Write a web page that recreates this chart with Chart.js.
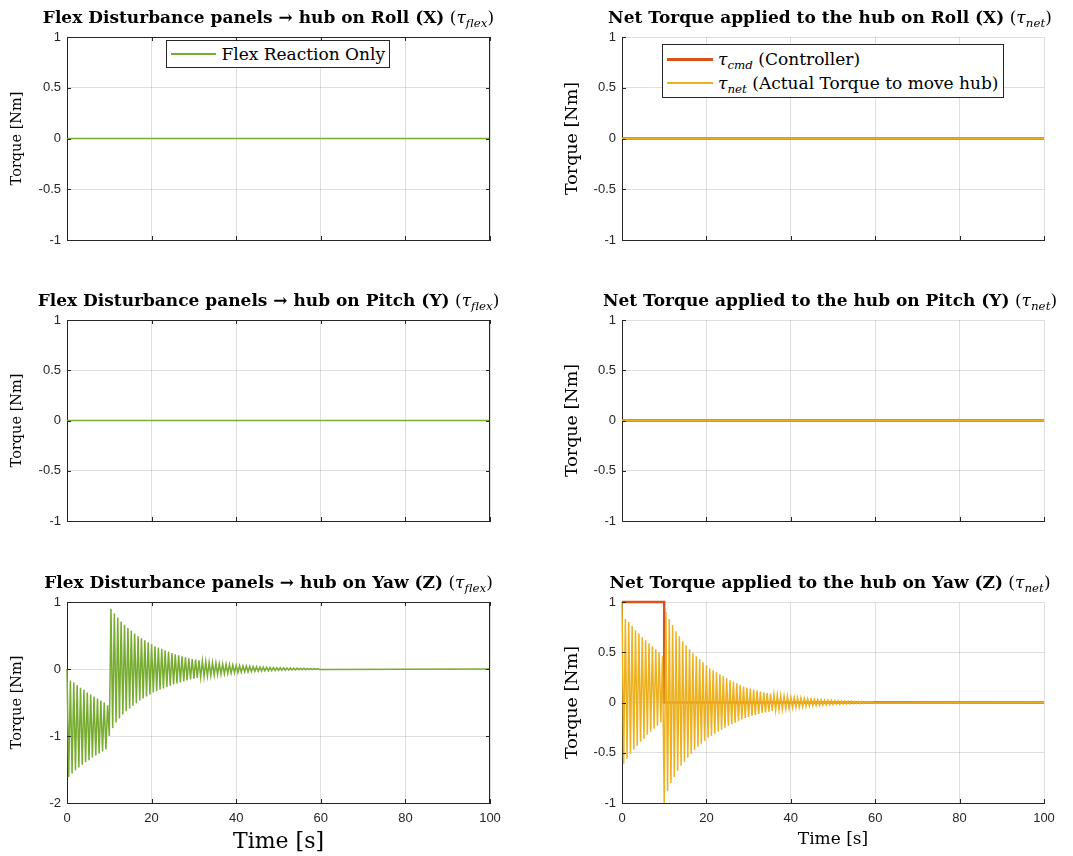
<!DOCTYPE html>
<html>
<head>
<meta charset="utf-8">
<script src="https://cdn.jsdelivr.net/npm/chart.js@4.4.0/dist/chart.umd.min.js"></script>
<style>
  html, body { margin: 0; padding: 0; background: #fff; }
  #fig { position: relative; width: 1073px; height: 856px; overflow: hidden; background: #fff; }
  #fig canvas { position: absolute; }
  .ttl { position: absolute; font-family: 'DejaVu Serif', serif; font-size: 17px; color: #000; white-space: nowrap; transform: translateX(-50%); line-height: 20px; }
  .ttl b { font-weight: bold; }
  sub { font-size: 70%; vertical-align: -0.35em; line-height: 0; }
  .leg { position: absolute; box-sizing: border-box; background: #fff; border: 1px solid #262626; font-family: 'DejaVu Serif', serif; font-size: 17px; color: #000; padding: 0 4px; }
  .leg .row { display: flex; align-items: center; height: 24px; white-space: nowrap; }
  .leg .sw { display: inline-block; width: 46px; margin-right: 5px; height: 0; }
</style>
</head>
<body>
<div id="fig"></div>
<script>
// ---- data ----
const xTicks = [0, 20, 40, 60, 80, 100];
const yTicksUnit = [-1, -0.5, 0, 0.5, 1];
const yTicksFlexYaw = [-2, -1, 0, 1];

// roll / pitch: everything stays at zero
const zeroTimes = [0, 100];
const zeroValues = [0, 0];

// commanded yaw torque: full 1 Nm until the switch at t = 10 s
const cmdYawTimes = [0, 10, 10, 100];
const cmdYawValues = [1, 1, 0, 0];

// flex reaction on yaw, one sample per half swing (0.4 s), t = 0 .. 10 s
const halfSwing = 0.4;
const flexYawBefore = [
  0, -1.61, -0.17, -1.56, -0.20, -1.51, -0.24, -1.47, -0.28, -1.43,
  -0.31, -1.39, -0.35, -1.36, -0.38, -1.32, -0.41, -1.29, -0.44, -1.26,
  -0.47, -1.23, -0.50, -1.20, -0.54, -1.00
];
// after the switch: swing tops (t = 10.4 + 0.8k) and bottoms (t = 10.8 + 0.8k)
const flexYawTops = [
  0.90, 0.83, 0.77, 0.71, 0.66, 0.61, 0.57, 0.53, 0.49, 0.46,
  0.43, 0.40, 0.37, 0.34, 0.32, 0.30, 0.28, 0.26, 0.24, 0.22,
  0.205, 0.19, 0.175, 0.16, 0.15, 0.14, 0.13, 0.12, 0.11, 0.10,
  0.095, 0.09, 0.08, 0.075, 0.07, 0.065, 0.06, 0.055, 0.05, 0.047,
  0.044, 0.04, 0.037, 0.034, 0.031, 0.029, 0.027, 0.025, 0.023, 0.021,
  0.019, 0.018, 0.016, 0.015, 0.014, 0.013, 0.012, 0.011, 0.01, 0.009,
  0.008, 0.007
];
const flexYawBottoms = [
  -0.88, -0.80, -0.74, -0.68, -0.63, -0.59, -0.55, -0.51, -0.47, -0.44,
  -0.41, -0.38, -0.35, -0.33, -0.31, -0.29, -0.27, -0.25, -0.23, -0.215,
  -0.20, -0.185, -0.17, -0.155, -0.145, -0.135, -0.125, -0.115, -0.105, -0.098,
  -0.092, -0.085, -0.078, -0.072, -0.067, -0.062, -0.057, -0.052, -0.048, -0.045,
  -0.042, -0.039, -0.035, -0.032, -0.03, -0.028, -0.026, -0.024, -0.022, -0.02,
  -0.018, -0.017, -0.015, -0.014, -0.013, -0.012, -0.011, -0.01, -0.009, -0.008,
  -0.007, -0.006
];

// ---- build point lists ----
function pairs(xs, ys) {
  return xs.map((x, i) => ({ x: x, y: ys[i] }));
}

let flexYaw = [];
flexYawBefore.forEach((v, i) => flexYaw.push({ x: i * halfSwing, y: v }));
let tAfter = flexYawBefore.length * halfSwing;
flexYawTops.forEach((v, k) => {
  flexYaw.push({ x: tAfter + 2 * k * halfSwing, y: v });
  flexYaw.push({ x: tAfter + (2 * k + 1) * halfSwing, y: flexYawBottoms[k] });
});
flexYaw.push({ x: 100, y: 0 });

// tau_net = tau_cmd + tau_flex
function cmdAt(t) {
  let v = cmdYawValues[0];
  cmdYawTimes.forEach((ct, i) => { if (ct <= t) v = cmdYawValues[i]; });
  return v;
}
const netYaw = flexYaw.map(p => ({ x: p.x, y: p.y + cmdAt(p.x) }));

// ---- styles ----
const GREEN = '#77AC30';
const RED = '#D95319';
const YELLOW = '#EDB120';
const AXIS = '#262626';
const GRID = 'rgba(38,38,38,0.15)';
const SERIF = "'DejaVu Serif', serif";
const SANS = "'Liberation Sans', Arial, sans-serif";
const Y_W = 60, PAD_TOP = 8, PAD_RIGHT = 14;

// MATLAB-ish inward ticks and the box on the left panels
const axesDeco = {
  id: 'axesDeco',
  afterDraw(chart, args, opts) {
    const { ctx, chartArea: a, scales } = chart;
    const x = scales.x, y = scales.y;
    const len = 4;
    ctx.save();
    ctx.strokeStyle = AXIS;
    ctx.lineWidth = 1;
    ctx.beginPath();
    x.ticks.forEach(t => {
      const px = Math.round(x.getPixelForValue(t.value)) + 0.5;
      ctx.moveTo(px, a.bottom); ctx.lineTo(px, a.bottom - len);
      if (opts.box) { ctx.moveTo(px, a.top); ctx.lineTo(px, a.top + len); }
    });
    y.ticks.forEach(t => {
      const py = Math.round(y.getPixelForValue(t.value)) + 0.5;
      ctx.moveTo(a.left, py); ctx.lineTo(a.left + len, py);
      if (opts.box) { ctx.moveTo(a.right, py); ctx.lineTo(a.right - len, py); }
    });
    if (opts.box) {
      const t = Math.round(a.top) + 0.5, r = Math.round(a.right) - 0.5;
      ctx.moveTo(a.left, t); ctx.lineTo(a.right, t);
      ctx.moveTo(r, a.top); ctx.lineTo(r, a.bottom);
    }
    ctx.stroke();
    ctx.restore();
  }
};

const fig = document.getElementById('fig');

function makePanel(p) {
  const canvas = document.createElement('canvas');
  const w = Y_W + (p.right - p.left) + PAD_RIGHT;
  const h = PAD_TOP + (p.bottom - p.top) + p.xAxisH;
  canvas.width = w;
  canvas.height = h;
  canvas.style.left = (p.left - Y_W) + 'px';
  canvas.style.top = (p.top - PAD_TOP) + 'px';
  canvas.style.width = w + 'px';
  canvas.style.height = h + 'px';
  fig.appendChild(canvas);

  new Chart(canvas, {
    type: 'line',
    data: { datasets: p.datasets },
    options: {
      responsive: false,
      animation: false,
      events: [],
      layout: { padding: { top: PAD_TOP, right: PAD_RIGHT, left: 0, bottom: 0 } },
      elements: { point: { radius: 0 }, line: { tension: 0 } },
      plugins: { legend: { display: false }, tooltip: { enabled: false }, axesDeco: { box: p.box } },
      scales: {
        x: {
          type: 'linear', min: 0, max: 100,
          afterFit: s => { s.height = p.xAxisH; s.paddingLeft = 0; s.paddingRight = 0; },
          afterBuildTicks: s => { s.ticks = xTicks.map(v => ({ value: v })); },
          ticks: { display: p.showX, padding: 8, color: AXIS, font: { family: SANS, size: 13 }, maxRotation: 0 },
          grid: { color: GRID, drawTicks: false },
          border: { color: AXIS },
          title: { display: p.showX, text: 'Time [s]', color: '#000', padding: 0, font: { family: SERIF, size: p.xTitleSize } }
        },
        y: {
          type: 'linear', min: p.yTicks[0], max: p.yTicks[p.yTicks.length - 1],
          afterFit: s => { s.width = Y_W; s.paddingTop = 0; s.paddingBottom = 0; },
          afterBuildTicks: s => { s.ticks = p.yTicks.map(v => ({ value: v })); },
          ticks: { padding: 6, color: AXIS, font: { family: SANS, size: 13 }, callback: v => String(v) },
          grid: { color: GRID, drawTicks: false },
          border: { color: AXIS },
          title: { display: true, text: 'Torque [Nm]', color: '#000', padding: { top: p.yTitlePad, bottom: 0 }, font: { family: SERIF, size: p.yTitleSize } }
        }
      }
    },
    plugins: [axesDeco]
  });

  const ttl = document.createElement('div');
  ttl.className = 'ttl';
  ttl.style.left = ((p.left + p.right) / 2 + p.titleShift) + 'px';
  ttl.style.top = (p.top - 30) + 'px';
  ttl.innerHTML = p.title;
  fig.appendChild(ttl);
}

function flexSet(points) {
  return [{ data: points, borderColor: GREEN, borderWidth: 1.5, clip: 3 }];
}
function netSet(cmdPoints, netPoints) {
  return [
    { data: netPoints, borderColor: YELLOW, borderWidth: 1.5, order: 1, clip: 3 },
    { data: cmdPoints, borderColor: RED, borderWidth: 2.5, order: 2, clip: 3 }
  ];
}

const flexTitle = axis => '<b>Flex Disturbance panels \u2192 hub on ' + axis + '</b> (<i>\u03c4<sub>flex</sub></i>)';
const netTitle = axis => '<b>Net Torque applied to the hub on ' + axis + '</b> (<i>\u03c4<sub>net</sub></i>)';

const zeroLine = pairs(zeroTimes, zeroValues);
const cmdYaw = pairs(cmdYawTimes, cmdYawValues);

const rows = [
  { top: 37, bottom: 240, axis: 'Roll (X)' },
  { top: 320, bottom: 521, axis: 'Pitch (Y)' },
  { top: 602, bottom: 803, axis: 'Yaw (Z)' }
];

rows.forEach((r, i) => {
  const last = i === rows.length - 1;
  makePanel({
    left: 67, right: 490, top: r.top, bottom: r.bottom,
    xAxisH: last ? 52 : 4, showX: last, xTitleSize: 22,
    yTitleSize: 14.5, yTitlePad: 2, box: true,
    yTicks: last ? yTicksFlexYaw : yTicksUnit,
    datasets: flexSet(last ? flexYaw : zeroLine),
    title: flexTitle(r.axis), titleShift: -10
  });
  makePanel({
    left: 622, right: 1044, top: r.top, bottom: r.bottom,
    xAxisH: last ? 47 : 4, showX: last, xTitleSize: 17,
    yTitleSize: 17.5, yTitlePad: 0, box: false,
    yTicks: yTicksUnit,
    datasets: last ? netSet(cmdYaw, netYaw) : netSet(zeroLine, zeroLine),
    title: netTitle(r.axis), titleShift: -3
  });
});

// legends (boxed, inside the top panels)
function legend(x, y, w, h, items) {
  const box = document.createElement('div');
  box.className = 'leg';
  box.style.left = x + 'px';
  box.style.top = y + 'px';
  box.style.width = w + 'px';
  box.style.height = h + 'px';
  box.style.paddingTop = ((h - 2 - items.length * 24) / 2) + 'px';
  box.innerHTML = items.map(it =>
    '<div class="row"><span class="sw" style="border-top:' + it.width + 'px solid ' + it.color + '"></span>' + it.label + '</div>'
  ).join('');
  fig.appendChild(box);
}
legend(166, 40, 224, 28, [{ color: GREEN, width: 2, label: 'Flex Reaction Only' }]);
legend(662, 44, 342, 54, [
  { color: RED, width: 3, label: '<i>\u03c4<sub>cmd</sub></i>&nbsp;(Controller)' },
  { color: YELLOW, width: 2, label: '<i>\u03c4<sub>net</sub></i>&nbsp;(Actual Torque to move hub)' }
]);
</script>
</body>
</html>
